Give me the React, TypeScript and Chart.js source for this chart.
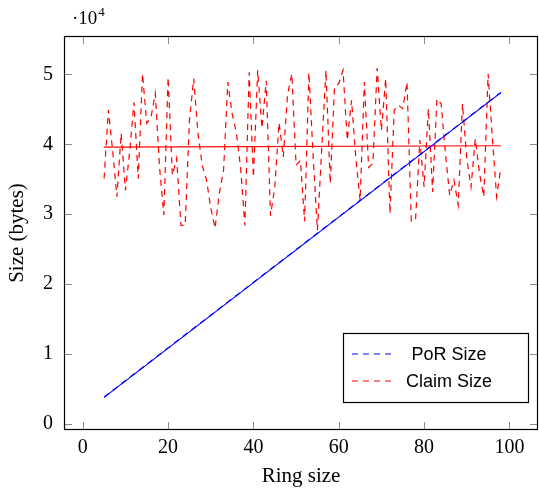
import React, { useEffect, useRef } from "react";
import { Chart, registerables } from "chart.js";

Chart.register(...registerables);

const ringSizes = [
  5, 6, 7, 8, 9, 10, 11, 12, 13, 14, 15, 16, 17, 18, 19, 20, 21, 22, 23, 24,
  25, 26, 27, 28, 29, 30, 31, 32, 33, 34, 35, 36, 37, 38, 39, 40, 41, 42, 43, 44,
  45, 46, 47, 48, 49, 50, 51, 52, 53, 54, 55, 56, 57, 58, 59, 60, 61, 62, 63, 64,
  65, 66, 67, 68, 69, 70, 71, 72, 73, 74, 75, 76, 77, 78, 79, 80, 81, 82, 83, 84,
  85, 86, 87, 88, 89, 90, 91, 92, 93, 94, 95, 96, 97, 98,
];

const porSize = [
  3860, 4330, 4800, 5260, 5740, 6200, 6660, 7140, 7600, 8070, 8540, 9010, 9470, 9950, 10410, 10880,
  11350, 11820, 12280, 12760, 13220, 13690, 14160, 14630, 15100, 15560, 16040, 16500, 16970, 17440,
  17910, 18380, 18840, 19320, 19780, 20250, 20720, 21190, 21660, 22120, 22600, 23060, 23530, 24000,
  24470, 24940, 25400, 25880, 26340, 26810, 27280, 27750, 28220, 28680, 29160, 29620, 30090, 30560,
  31030, 31500, 31960, 32440, 32900, 33370, 33840, 34310, 34780, 35240, 35720, 36180, 36650, 37120,
  37590, 38060, 38520, 39000, 39460, 39930, 40400, 40870, 41340, 41800, 42280, 42740, 43210, 43680,
  44150, 44620, 45080, 45560, 46020, 46490, 46960, 47430,
];

const claimSize = [
  35100, 44900, 39100, 32500, 41600, 33400, 39000, 46000, 35100, 50100, 43000, 43900, 47300, 36700,
  29900, 49600, 35600, 38000, 28400, 28400, 43400, 49400, 41600, 37000, 34900, 30900, 28000, 33000,
  36300, 48900, 44400, 41700, 36600, 28400, 50300, 35300, 50600, 42300, 49100, 29800, 33800, 43100,
  38200, 47100, 50100, 37000, 37700, 29000, 50300, 38200, 27700, 39300, 50600, 34400, 48200, 48700,
  50600, 40600, 46300, 38000, 32000, 48900, 36700, 37300, 50900, 42000, 49400, 30100, 44900, 45600,
  45100, 48900, 29000, 29200, 40600, 33900, 45100, 33200, 46500, 45800, 38700, 32700, 34900, 31300,
  45800, 38000, 33900, 40800, 35800, 32500, 50100, 41000, 32500, 36700,
];

const fitX = [5, 98];
const porFit = [3800, 47400];
const claimFit = [39600, 39800];

const xTickValues = [0, 20, 40, 60, 80, 100];
const yTickValues = [0, 10000, 20000, 30000, 40000, 50000];
const yTickLabels = ["0", "1", "2", "3", "4", "5"];
const seriesLabels = ["PoR Size", "Claim Size"];

const BLUE = "rgb(0,0,255)";
const RED = "rgb(255,0,0)";
const DASH = [6, 5];

const toPoints = (xs: number[], ys: number[]) => xs.map((x, i) => ({ x, y: ys[i] }));

const decorPlugin = {
  id: "decor",
  afterDatasetsDraw(chart: any) {
    const { ctx, chartArea: a, scales } = chart;
    const xs = scales.x;
    const ys = scales.y;
    ctx.save();
    // inward ticks on all sides
    ctx.strokeStyle = "#8a8a8a";
    ctx.lineWidth = 1;
    ctx.beginPath();
    const tl = 8;
    xs.ticks.forEach((t: any) => {
      const px = Math.round(xs.getPixelForValue(t.value)) + 0.5;
      ctx.moveTo(px, a.bottom);
      ctx.lineTo(px, a.bottom - tl);
      ctx.moveTo(px, a.top);
      ctx.lineTo(px, a.top + tl);
    });
    ys.ticks.forEach((t: any) => {
      const py = Math.round(ys.getPixelForValue(t.value)) + 0.5;
      ctx.moveTo(a.left, py);
      ctx.lineTo(a.left + tl, py);
      ctx.moveTo(a.right, py);
      ctx.lineTo(a.right - tl, py);
    });
    ctx.stroke();
    // frame
    ctx.strokeStyle = "#000";
    ctx.lineWidth = 1.2;
    ctx.strokeRect(a.left + 0.5, a.top + 0.5, a.right - a.left - 1, a.bottom - a.top - 1);

    // legend
    const ds = chart.data.datasets;
    const boxW = 185;
    const boxH = 69;
    const bx = a.right - 10 - boxW;
    const by = a.bottom - 28 - boxH;
    ctx.fillStyle = "#fff";
    ctx.fillRect(bx, by, boxW, boxH);
    ctx.strokeStyle = "#000";
    ctx.lineWidth = 1.2;
    ctx.strokeRect(bx + 0.5, by + 0.5, boxW, boxH);
    ctx.font = "18px 'Liberation Sans', Arial, sans-serif";
    ctx.textBaseline = "middle";
    ctx.textAlign = "center";
    [0, 1].forEach((i) => {
      const d = ds[i];
      const cy = by + 21 + i * 27;
      ctx.strokeStyle = d.borderColor;
      ctx.lineWidth = 1.2;
      ctx.setLineDash(d.borderDash || []);
      ctx.beginPath();
      ctx.moveTo(bx + 9, cy);
      ctx.lineTo(bx + 48, cy);
      ctx.stroke();
      ctx.setLineDash([]);
      ctx.fillStyle = "#000";
      ctx.fillText(d.label, bx + 106, cy + 1);
    });

    // exponent label
    ctx.fillStyle = "#000";
    ctx.textAlign = "left";
    ctx.textBaseline = "alphabetic";
    ctx.font = "19px 'Liberation Serif', serif";
    const base = "\u00b710";
    ctx.fillText(base, a.left + 8, a.top - 12);
    const w = ctx.measureText(base).width;
    ctx.font = "13px 'Liberation Serif', serif";
    ctx.fillText("4", a.left + 8 + w + 1, a.top - 20);
    ctx.restore();
  },
};

export default function App() {
  const ref = useRef<HTMLCanvasElement | null>(null);

  useEffect(() => {
    if (!ref.current) return;
    const serif = "'Liberation Serif', 'Times New Roman', serif";
    const chart = new Chart(ref.current, {
      type: "line",
      data: {
        datasets: [
          {
            label: seriesLabels[0],
            data: toPoints(ringSizes, porSize),
            borderColor: BLUE,
            borderWidth: 1.2,
            borderDash: DASH,
            pointRadius: 0,
            tension: 0,
            order: 3,
          },
          {
            label: seriesLabels[1],
            data: toPoints(ringSizes, claimSize),
            borderColor: RED,
            borderWidth: 1.2,
            borderDash: DASH,
            pointRadius: 0,
            tension: 0,
            order: 4,
          },
          {
            label: "PoR fit",
            data: toPoints(fitX, porFit),
            borderColor: BLUE,
            borderWidth: 1.2,
            pointRadius: 0,
            order: 1,
          },
          {
            label: "Claim fit",
            data: toPoints(fitX, claimFit),
            borderColor: RED,
            borderWidth: 1.2,
            pointRadius: 0,
            order: 2,
          },
        ],
      },
      options: {
        animation: false,
        responsive: false,
        devicePixelRatio: 1,
        layout: { padding: { top: 36, right: 1, left: 0, bottom: 0 } },
        plugins: {
          legend: { display: false },
          tooltip: { enabled: false },
        },
        scales: {
          x: {
            type: "linear",
            min: -4.4,
            max: 106.7,
            afterBuildTicks: (s: any) => {
              s.ticks = xTickValues.map((v) => ({ value: v }));
            },
            afterFit: (s: any) => {
              s.height = 59;
            },
            grid: { display: false, drawTicks: false },
            border: { display: false },
            ticks: {
              padding: 6,
              color: "#000",
              font: { family: serif, size: 20 },
              maxRotation: 0,
            },
            title: {
              display: true,
              text: "Ring size",
              color: "#000",
              font: { family: serif, size: 21 },
              padding: { top: 0, bottom: 0 },
            },
          },
          y: {
            type: "linear",
            min: -870,
            max: 55500,
            afterBuildTicks: (s: any) => {
              s.ticks = yTickValues.map((v) => ({ value: v }));
            },
            afterFit: (s: any) => {
              s.width = 64;
            },
            grid: { display: false, drawTicks: false },
            border: { display: false },
            ticks: {
              padding: 11,
              color: "#000",
              font: { family: serif, size: 20 },
              callback: (v: any) => {
                const i = yTickValues.indexOf(Number(v));
                return i >= 0 ? yTickLabels[i] : "";
              },
            },
            title: {
              display: true,
              text: "Size (bytes)",
              color: "#000",
              font: { family: serif, size: 21 },
              padding: { top: 5, bottom: 0 },
            },
          },
        },
      },
      plugins: [decorPlugin],
    });
    return () => chart.destroy();
  }, []);

  return (
    <div style={{ position: "fixed", left: 0, top: 0, width: 539, height: 489, background: "#fff" }}>
      <canvas ref={ref} width={539} height={489} style={{ width: 539, height: 489, display: "block" }} />
    </div>
  );
}
